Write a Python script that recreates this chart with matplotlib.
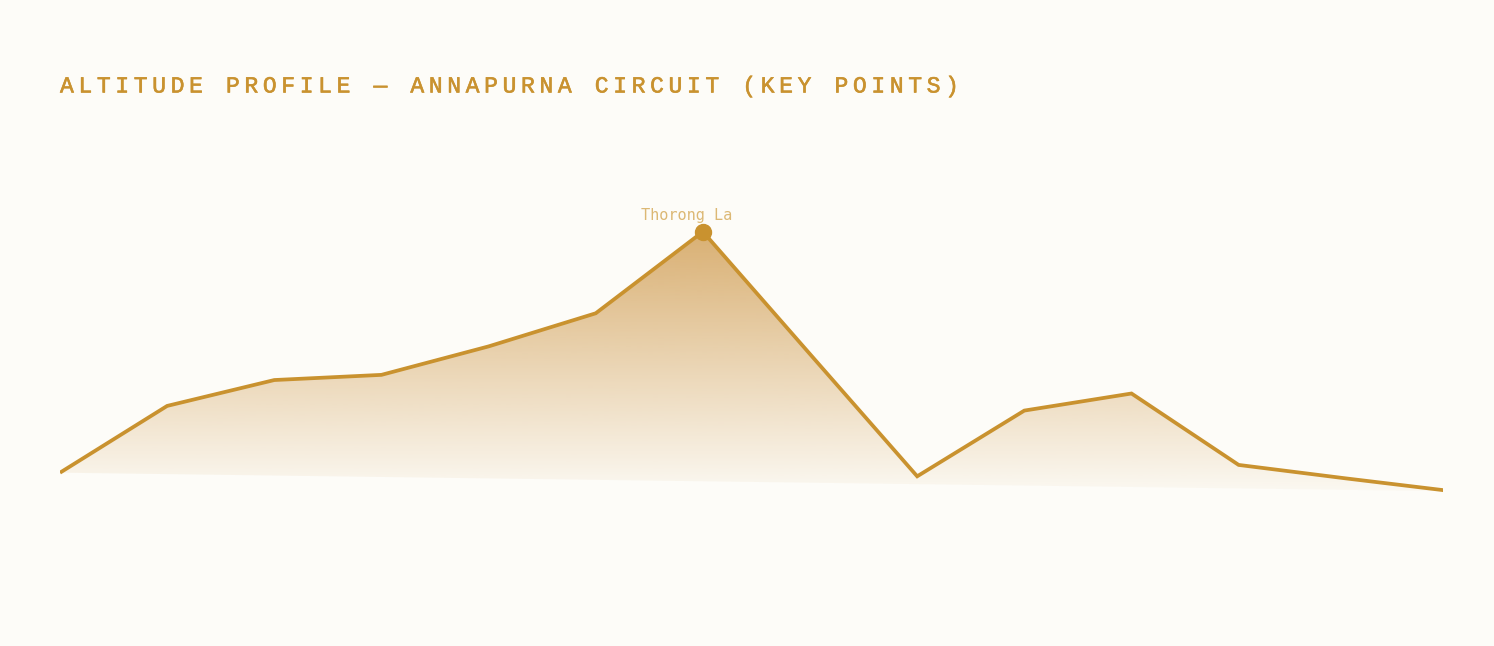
import numpy as np
import matplotlib
matplotlib.use('Agg')
import matplotlib.pyplot as plt
import matplotlib.patheffects as pe
from matplotlib.patches import Polygon
from matplotlib.colors import to_rgb

# Datos: altitud (m) de los puntos clave del circuito
puntos = list(range(14))
altitudes = [760, 2050, 2550, 2650, 3200, 3840, 5416, 3050, 690, 1960, 2290, 910, 650, 400]
etiqueta_cumbre = "Thorong La"
titulo = "ALTITUDE PROFILE \u2014 ANNAPURNA CIRCUIT (KEY POINTS)"

fondo = '#fdfcf8'
dorado = '#c9922f'
dorado_claro = '#dcb874'

fig = plt.figure(figsize=(14.94, 6.46), dpi=100, facecolor=fondo)
W, H = 1494, 646
ax = fig.add_axes([60 / W, 86 / H, (1443 - 60) / W, 430 / H])
ax.set_facecolor(fondo)
ax.set_xlim(0, (1443 - 60) / 107.15)
ax.set_ylim(-927, 7381)
ax.axis('off')

# Relleno con degradado vertical, recortado por el poligono del perfil
poligono = Polygon(list(zip(puntos, altitudes)), closed=True, facecolor='none', edgecolor='none')
ax.add_patch(poligono)
alt_max = max(altitudes)
alt_min = min(altitudes)
n = 256
alfa = np.linspace(0.75, 0.04, n).reshape(n, 1)
r, g, b = to_rgb('#cd9646')
img = np.zeros((n, 1, 4))
img[..., 0] = r
img[..., 1] = g
img[..., 2] = b
img[..., 3] = alfa
im = ax.imshow(img, extent=[0, puntos[-1], alt_min, alt_max], origin='upper',
               aspect='auto', interpolation='bilinear', zorder=1)
im.set_clip_path(poligono)

# Linea del perfil
ax.plot(puntos, altitudes, color=dorado, linewidth=2.7, solid_capstyle='butt',
        solid_joinstyle='miter', zorder=3)

# Marcador de la cumbre
i_max = int(np.argmax(altitudes))
ax.plot(puntos[i_max], altitudes[i_max], 'o', color=dorado, markersize=11.5, zorder=4,
        clip_on=False)
ax.annotate(etiqueta_cumbre, (puntos[i_max], altitudes[i_max]),
            xytext=(-12, 12), textcoords='offset points', ha='center', va='center',
            fontsize=11, color=dorado_claro, family=['DejaVu Sans Mono'],
            zorder=5)

# Titulo con espaciado entre letras (espacio fino tomado de DejaVu Sans)
fig.text(60 / W, 1 - 86 / H, '\u2009'.join(titulo), fontsize=16.6, color=dorado,
         family=['Liberation Mono', 'DejaVu Sans'], ha='left', va='center',
         path_effects=[pe.withStroke(linewidth=0.4, foreground=dorado)])

fig.savefig('out.png', dpi=100, facecolor=fondo)
